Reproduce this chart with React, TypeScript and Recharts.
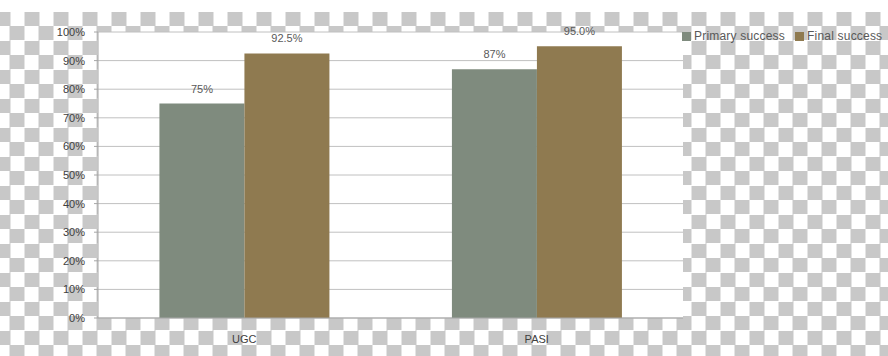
import { BarChart, Bar, XAxis, YAxis, CartesianGrid, Legend, LabelList } from "recharts";

const categories = ["UGC", "PASI"];
const primarySuccess = [75, 87];
const finalSuccess = [92.5, 95.0];
const primaryLabels = ["75%", "87%"];
const finalLabels = ["92.5%", "95.0%"];
const yTicks = [0, 10, 20, 30, 40, 50, 60, 70, 80, 90, 100];

const PRIMARY = "#7f8b7e";
const FINAL = "#8f7a50";
const FONT = '"Liberation Sans", Arial, sans-serif';

const data = categories.map((name, i) => ({
    name,
    primary: primarySuccess[i],
    final: finalSuccess[i],
    primaryLabel: primaryLabels[i],
    finalLabel: finalLabels[i],
}));

const LegendContent = () => (
    <div
        style={{
            display: "flex",
            alignItems: "center",
            whiteSpace: "nowrap",
            fontFamily: FONT,
            fontSize: 12,
            letterSpacing: 0.2,
            color: "#595959",
        }}
    >
        <span style={{ width: 9, height: 9, background: PRIMARY, display: "inline-block", marginRight: 3 }} />
        <span style={{ marginRight: 10 }}>Primary success</span>
        <span style={{ width: 9, height: 9, background: FINAL, display: "inline-block", marginRight: 3 }} />
        <span>Final success</span>
    </div>
);

export default function App() {
    return (
        <div
            style={{
                width: 888,
                height: 356,
                overflow: "hidden",
                backgroundColor: "#ffffff",
                backgroundImage:
                    "linear-gradient(#ffffff, #ffffff), repeating-conic-gradient(#c8c8c8 0 25%, #ffffff 0 50%)",
                backgroundSize: "100% 12px, 29px 29px",
                backgroundPosition: "0 0, -4.5px -3px",
                backgroundRepeat: "no-repeat, repeat",
            }}
        >
            <style>{"body{margin:0}"}</style>
            <BarChart
                width={888}
                height={356}
                data={data}
                margin={{ top: 32, right: 205, left: 38, bottom: 14 }}
                barCategoryGap="21%"
                barGap={0}
            >
                <CartesianGrid vertical={false} stroke="#c0c0c0" fill="#ffffff" fillOpacity={1} />
                <XAxis
                    dataKey="name"
                    height={24}
                    tickLine={false}
                    tickSize={0}
                    tickMargin={17}
                    axisLine={{ stroke: "#a6a6a6" }}
                    tick={{ fill: "#404040", fontSize: 11, fontFamily: FONT }}
                />
                <YAxis
                    width={60}
                    domain={[0, 100]}
                    ticks={yTicks}
                    tickFormatter={(v: number) => `${v}%`}
                    tickSize={4}
                    tickMargin={9}
                    tickLine={{ stroke: "#a6a6a6" }}
                    axisLine={{ stroke: "#a6a6a6" }}
                    tick={{ fill: "#404040", fontSize: 11, fontFamily: FONT }}
                />
                <Legend
                    layout="horizontal"
                    verticalAlign="middle"
                    align="center"
                    content={<LegendContent />}
                    wrapperStyle={{ top: 29, left: 682, width: 204, height: 16 }}
                />
                <Bar dataKey="primary" name="Primary success" fill={PRIMARY} isAnimationActive={false}>
                    <LabelList dataKey="primaryLabel" position="top" offset={11} fill="#595959" fontSize={11} fontFamily={FONT} />
                </Bar>
                <Bar dataKey="final" name="Final success" fill={FINAL} isAnimationActive={false}>
                    <LabelList dataKey="finalLabel" position="top" offset={11} fill="#595959" fontSize={11} fontFamily={FONT} />
                </Bar>
            </BarChart>
        </div>
    );
}
